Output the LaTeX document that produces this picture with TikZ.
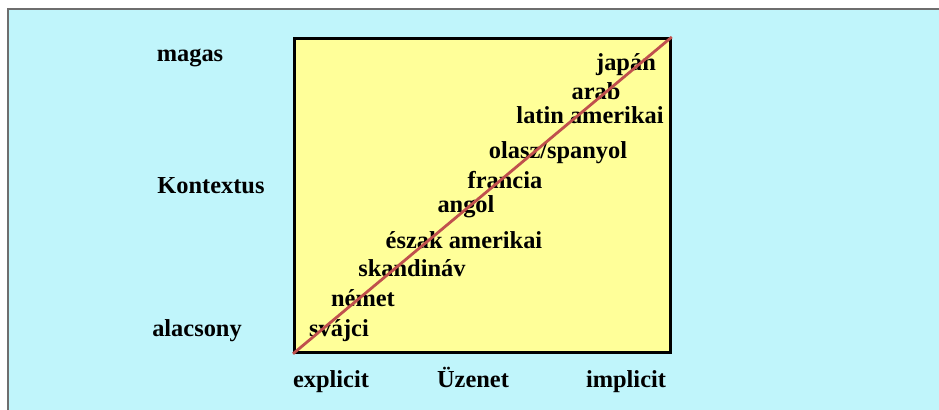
\documentclass[tikz,border=0pt]{standalone}
\usepackage{fontspec}
\setmainfont{Liberation Serif}
\usetikzlibrary{positioning}
\definecolor{ctxFrameBg}{RGB}{192, 245, 251}
\definecolor{ctxFrameLine}{RGB}{110, 110, 110}
\definecolor{ctxSquareBg}{RGB}{255, 255, 153}
\definecolor{ctxDiag}{RGB}{192, 80, 77}

\begin{document}
\begin{tikzpicture}[
    x=0.5pt, y=-0.5pt,
    font=\fontsize{12.2}{14}\selectfont\bfseries,
    label/.style={
        inner sep=0pt,
        anchor=base,
        text=black
    },
    lang/.style={
        inner sep=0pt,
        anchor=base,
        text=black
    },
    square/.style={
        draw=black,
        fill=ctxSquareBg,
        rectangle,
        line width=1.4pt,
        minimum width=188pt,
        minimum height=157pt,
        inner sep=0pt
    },
    diag/.style={
        draw=ctxDiag,
        line width=1.4pt
    }
]

% ================= FRAME =================
\useasboundingbox (0,0) rectangle (939,410);
\fill[white] (0,0) rectangle (939,410);
\fill[ctxFrameBg] (8,9) rectangle (945,416);
\draw[ctxFrameLine, line width=0.8pt] (8,416) -- (8,9) -- (945,9);

% ================= SQUARE =================
\node[square, anchor=north west] (sq) at (293,37) {};

% ================= AXIS LABELS =================
\node[label] (magas) at (190,62) {magas};
\node[label] (kontextus) at (211,194) {Kontextus};
\node[label] (alacsony) at (197,337) {alacsony};

\node[label] (explicit) at (331,388) {explicit};
\node[label] (uzenet) at (473,388) {Üzenet};
\node[label] (implicit) at (626,388) {implicit};

% ================= LANGUAGES =================
\node[lang] (l1) at (626,71) {japán};
\node[lang] (l2) at (596,100) {arab};
\node[lang] (l3) at (590,124) {latin amerikai};
\node[lang] (l4) at (558,159) {olasz/spanyol};
\node[lang] (l5) at (505,189) {francia};
\node[lang] (l6) at (466,213) {angol};
\node[lang] (l7) at (464,249) {észak amerikai};
\node[lang] (l8) at (412,277) {skandináv};
\node[lang] (l9) at (363,307) {német};
\node[lang] (l10) at (339,337) {svájci};

% diagonal over the text
\draw[diag] (sq.south west) -- (sq.north east);

\end{tikzpicture}
\end{document}
